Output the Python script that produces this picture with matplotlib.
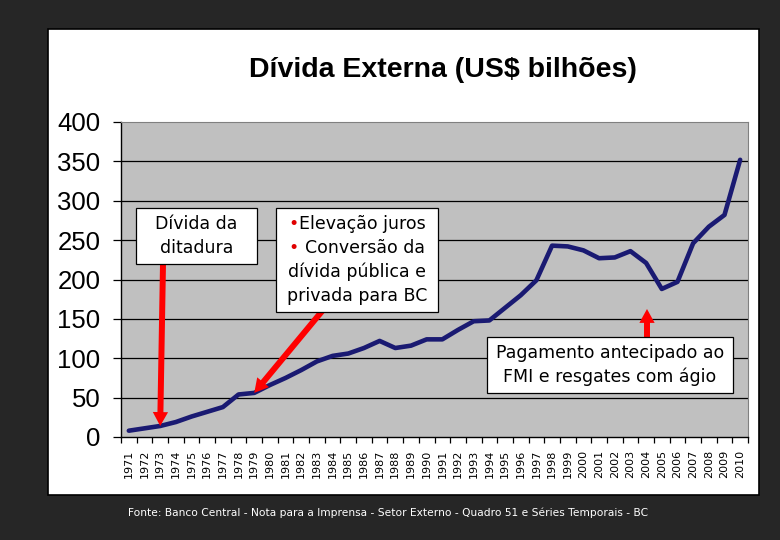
import numpy as np
import matplotlib
matplotlib.use('Agg')
import matplotlib.pyplot as plt
from matplotlib.patches import Rectangle, FancyArrowPatch

years = [str(y) for y in range(1971, 2011)]
debt = [8, 11, 14, 19, 26, 32, 38, 54, 56, 66,
        75, 85, 96, 103, 106, 113, 122, 113, 116, 124,
        124, 136, 147, 148, 164, 180, 199, 243, 242, 237,
        227, 228, 236, 221, 188, 197, 246, 267, 282, 352]
yticks = [0, 50, 100, 150, 200, 250, 300, 350, 400]
title = 'Dívida Externa (US\\$ bilhões)'
note1 = ['Dívida da', 'ditadura']
note2 = [('•', 'Elevação juros'), ('• ', 'Conversão da'), ('', 'dívida pública e'), ('', 'privada para BC')]
note3 = ['Pagamento antecipado ao', 'FMI e resgates com ágio']
source = 'Fonte: Banco Central - Nota para a Imprensa - Setor Externo - Quadro 51 e Séries Temporais - BC'

W, H = 780, 540
fig = plt.figure(figsize=(W / 100, H / 100), dpi=100)
fig.patch.set_facecolor('#262626')

def fx(x):
    return x / W

def fy(y):
    return 1 - y / H

# white panel
fig.add_artist(Rectangle((fx(48), fy(495)), (759 - 48) / W, (495 - 29) / H,
                         transform=fig.transFigure, fc='white', ec='black', lw=1.2, zorder=-1))

ax = fig.add_axes([fx(121), fy(437), (748 - 121) / W, (437 - 122) / H])
ax.set_facecolor('#c0c0c0')
x = np.arange(len(years))
ax.plot(x, debt, color='#1a1a72', lw=3.3, solid_joinstyle='round', solid_capstyle='round', zorder=3)
ax.set_xlim(-0.5, len(years) - 0.5)
ax.set_ylim(0, 400)
ax.set_yticks(yticks)
ax.set_yticklabels([str(v) for v in yticks], fontsize=18.5, family='Liberation Sans')
for v in yticks[1:-1]:
    ax.axhline(v, color='black', lw=0.9, zorder=1)
ax.set_xticks(np.arange(-0.5, len(years), 1))
ax.set_xticklabels([])
ax.set_xticks(x, minor=True)
ax.set_xticklabels(years, minor=True, rotation=90, fontsize=8, family='DejaVu Sans')
ax.tick_params(axis='x', which='major', length=4.5, width=0.9, color='black')
ax.tick_params(axis='x', which='minor', length=0, pad=9)
ax.tick_params(axis='y', length=5.8, width=0.9, pad=9)
for s in ['left', 'bottom']:
    ax.spines[s].set_color('black')
    ax.spines[s].set_linewidth(1.0)
for s in ['top', 'right']:
    ax.spines[s].set_color('#808080')
    ax.spines[s].set_linewidth(0.8)

fig.text(fx(442.5), fy(77), title, ha='center', va='baseline', fontsize=20.5,
         fontweight='bold', family='Liberation Sans')

afont = dict(fontsize=12.5, family='DejaVu Sans')
astyle = 'simple,head_length=1.0,head_width=1.1,tail_width=0.43'

# arrows
ax.annotate('', xy=(2, debt[2]), xycoords='data', xytext=(fx(163), fy(264)),
            textcoords='figure fraction', annotation_clip=False,
            arrowprops=dict(arrowstyle=astyle, color='#ff0000', shrinkA=0, shrinkB=0,
                            mutation_scale=10, lw=0))
ax.annotate('', xy=(8, debt[8]), xycoords='data', xytext=(fx(323), fy(310)),
            textcoords='figure fraction', annotation_clip=False,
            arrowprops=dict(arrowstyle=astyle, color='#ff0000', shrinkA=0, shrinkB=0,
                            mutation_scale=10, lw=0))
fig.add_artist(FancyArrowPatch((fx(647), fy(337)), (fx(647), fy(309)), transform=fig.transFigure,
                               arrowstyle=astyle, mutation_scale=10, color='#ff0000', lw=0,
                               shrinkA=0, shrinkB=0, zorder=4))

def box(x0, y0, x1, y1):
    fig.add_artist(Rectangle((fx(x0), fy(y1)), (x1 - x0) / W, (y1 - y0) / H,
                             transform=fig.transFigure, fc='white', ec='black', lw=0.9, zorder=5))

box(136, 208, 257, 264)
for i, t in enumerate(note1):
    fig.text(fx(196.5), fy(224 + 24 * i), t, ha='center', va='center', zorder=6, **afont)

box(276, 208, 438, 312)
renderer = fig.canvas.get_renderer()
for i, (b, t) in enumerate(note2):
    yy = fy(224 + 24 * i)
    full = fig.text(0, 0, b + t, **afont)
    wfull = full.get_window_extent(renderer).width
    full.remove()
    xstart = 357 - wfull / 2
    if b:
        bt = fig.text(fx(xstart), yy, b, ha='left', va='center', color='#e00000', zorder=6, **afont)
        wb = bt.get_window_extent(renderer).width
    else:
        wb = 0
    fig.text(fx(xstart + wb), yy, t, ha='left', va='center', zorder=6, **afont)

box(487, 337, 733, 393)
for i, t in enumerate(note3):
    fig.text(fx(610), fy(353 + 24 * i), t, ha='center', va='center', zorder=6, **afont)

fig.text(fx(128), fy(513), source, ha='left', va='center', color='white', fontsize=7.7,
         family='DejaVu Sans')

fig.savefig('out.png', dpi=100, facecolor=fig.get_facecolor())
